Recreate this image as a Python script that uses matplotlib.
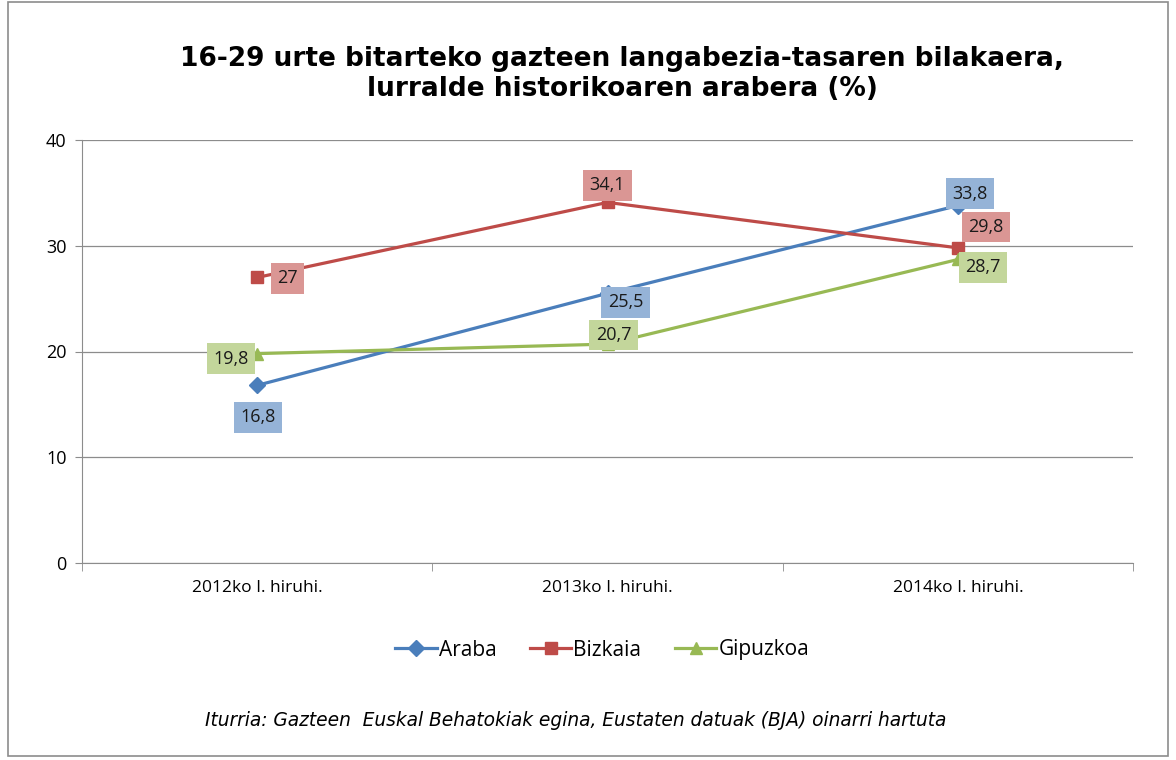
import matplotlib.pyplot as plt
from matplotlib.patches import Rectangle

# Data
categories = ["2012ko I. hiruhi.", "2013ko I. hiruhi.", "2014ko I. hiruhi."]
araba = [16.8, 25.5, 33.8]
bizkaia = [27.0, 34.1, 29.8]
gipuzkoa = [19.8, 20.7, 28.7]
araba_labels = ["16,8", "25,5", "33,8"]
bizkaia_labels = ["27", "34,1", "29,8"]
gipuzkoa_labels = ["19,8", "20,7", "28,7"]

fig = plt.figure(figsize=(11.76, 7.6), dpi=100)
ax = fig.add_axes([82 / 1176, 1 - 563 / 760, (1133 - 82) / 1176, (563 - 140) / 760])

# outer chart border
fig.patches.append(Rectangle((8 / 1176, 4 / 760), 1160 / 1176, 754 / 760,
                             transform=fig.transFigure, fill=False,
                             edgecolor="#8c8c8c", linewidth=1.2))

x = range(len(categories))
series = [
    ("Araba", araba, araba_labels, "#4A7EBB", "#95B3D7", "D", 8,
     [(1, -32), (18, -9), (12, 12)]),
    ("Bizkaia", bizkaia, bizkaia_labels, "#BE4B48", "#DA9694", "s", 9,
     [(30, -1), (0, 17), (28, 21)]),
    ("Gipuzkoa", gipuzkoa, gipuzkoa_labels, "#98B954", "#C3D69B", "^", 9,
     [(-26, -5), (6, 9), (25, -8)]),
]

for name, vals, labs, col, boxcol, mk, ms, offs in series:
    ax.plot(x, vals, color=col, linewidth=2.3, marker=mk, markersize=ms,
            label=name, zorder=3)
    for xi, v, lab, off in zip(x, vals, labs, offs):
        ax.annotate(lab, (xi, v), xytext=off, textcoords="offset pixels",
                    ha="center", va="center", fontsize=13, family="Open Sans",
                    color="#1a1a1a", zorder=5,
                    bbox=dict(boxstyle="square,pad=0.35", facecolor=boxcol,
                              edgecolor="none"))

ax.set_xlim(-0.5, 2.5)
ax.set_ylim(0, 40)
ax.set_yticks([0, 10, 20, 30, 40])
ax.set_xticks([0, 1, 2])
ax.set_xticklabels(categories, fontsize=12.5, family="Open Sans")
ax.set_xticks([-0.5, 0.5, 1.5, 2.5], minor=True)
ax.tick_params(axis="x", which="major", length=0, pad=12)
ax.tick_params(axis="x", which="minor", length=6, color="#8c8c8c")
ax.tick_params(axis="y", length=5, color="#8c8c8c", labelsize=13, pad=6)
for t in ax.get_yticklabels():
    t.set_family("Open Sans")
ax.grid(axis="y", color="#8c8c8c", linewidth=0.9)
ax.set_axisbelow(True)
for s in ["top", "right"]:
    ax.spines[s].set_visible(False)
for s in ["left", "bottom"]:
    ax.spines[s].set_color("#8c8c8c")

fig.text(0.529, 1 - 74 / 760, "16-29 urte bitarteko gazteen langabezia-tasaren bilakaera,\n"
         "lurralde historikoaren arabera (%)", ha="center", va="center",
         fontsize=19, fontweight="bold", linespacing=1.2)

fig.legend(loc="center", bbox_to_anchor=(0.512, 1 - 650 / 760), ncol=3,
           frameon=False, prop={"family": "Open Sans", "size": 15},
           handlelength=2.0, handletextpad=0.1, columnspacing=1.6)

fig.text(576 / 1176, 1 - 720 / 760,
         "Iturria: Gazteen  Euskal Behatokiak egina, Eustaten datuak (BJA) oinarri hartuta",
         ha="center", va="center", fontsize=13.4, style="italic")

fig.savefig("out.png", dpi=100)
